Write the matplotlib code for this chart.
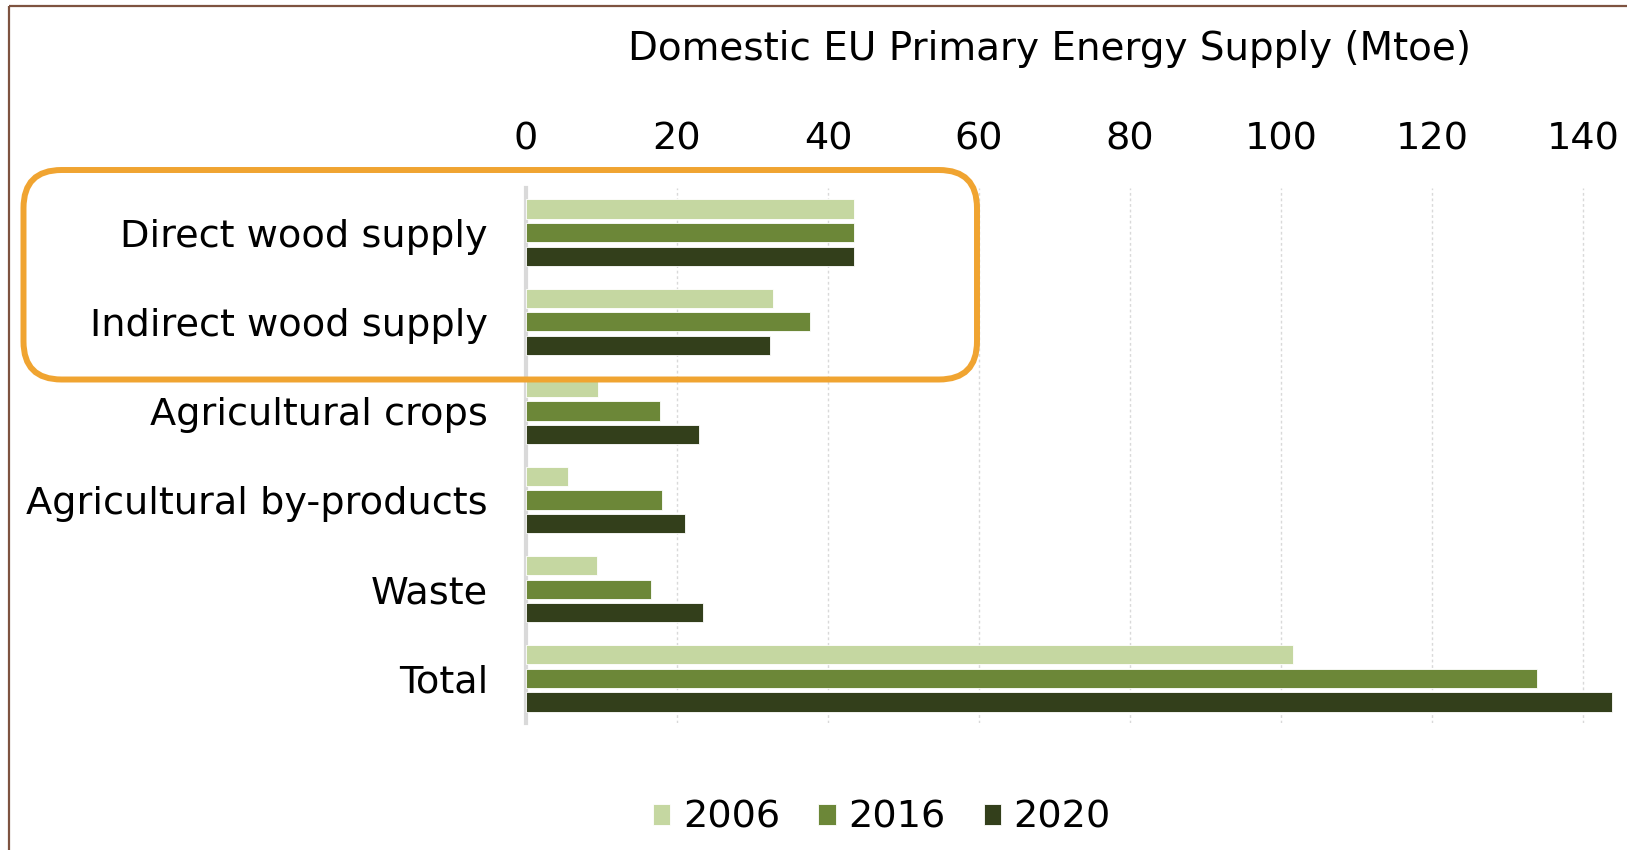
import matplotlib
matplotlib.use("Agg")
import matplotlib.pyplot as plt
import numpy as np
from matplotlib.patches import FancyBboxPatch

categories = ["Direct wood supply", "Indirect wood supply", "Agricultural crops",
              "Agricultural by-products", "Waste", "Total"]
years = ["2006", "2016", "2020"]
v2006 = [43.4, 32.7, 9.6, 5.6, 9.4, 101.5]
v2016 = [43.4, 37.6, 17.7, 18.0, 16.5, 133.9]
v2020 = [43.4, 32.3, 22.9, 21.0, 23.5, 143.8]
xticks = [0, 20, 40, 60, 80, 100, 120, 140]
title = "Domestic EU Primary Energy Supply (Mtoe)"

colors = ["#C5D7A1", "#6C8738", "#333F1B"]

W, H = 1627, 850
fig = plt.figure(figsize=(W / 100, H / 100), dpi=100)
fig.patch.set_facecolor("white")

left_px, right_px, top_px, bot_px = 526, 1621, 188, 723
ax = fig.add_axes([left_px / W, 1 - bot_px / H, (right_px - left_px) / W, (bot_px - top_px) / H])

FS = 27.5
y = np.arange(len(categories))
step = 0.265
bh = 0.215
for i, (vals, c, lab) in enumerate(zip([v2006, v2016, v2020], colors, years)):
    ax.barh(y + (i - 1) * step, vals, height=bh, color=c, edgecolor="white",
            linewidth=0.6, label=lab, zorder=3)

ax.set_xlim(0, 145)
ax.set_ylim(len(categories) - 0.5, -0.5)
ax.xaxis.tick_top()
ax.set_xticks(xticks)
ax.set_xticklabels([str(t) for t in xticks], fontsize=FS)
ax.set_yticks(y)
ax.set_yticklabels(categories, fontsize=FS)
ax.tick_params(axis="both", length=0, colors="black")
ax.tick_params(axis="x", pad=22)
ax.tick_params(axis="y", pad=27.4)
for s in ["top", "right", "bottom"]:
    ax.spines[s].set_visible(False)
ax.spines["left"].set_color("#D9D9D9")
ax.spines["left"].set_linewidth(3)
ax.grid(axis="x", color="#D9D9D9", linestyle=(0, (2, 2)), linewidth=1, zorder=0)
ax.set_axisbelow(True)

fig.text(1050 / W, 1 - 49 / H, title, fontsize=28, ha="center", va="center")

handles, labels = ax.get_legend_handles_labels()
leg = fig.legend(handles, labels, loc="center", bbox_to_anchor=(882 / W, 1 - 818 / H),
                 ncol=3, frameon=False, fontsize=FS, handlelength=0.45, handleheight=0.45,
                 handletextpad=0.33, columnspacing=1.0, borderpad=0, borderaxespad=0)

# overlay for frame and highlight box
ov = fig.add_axes([0, 0, 1, 1], zorder=10)
ov.set_xlim(0, W)
ov.set_ylim(H, 0)
ov.axis("off")
ov.patch.set_alpha(0)
ov.plot([9, 9], [5.7, H], color="#7E5340", lw=1.6, solid_capstyle="butt")
ov.plot([9, W], [5.7, 5.7], color="#7E5340", lw=1.6, solid_capstyle="butt")
box = FancyBboxPatch((23.5, 170), 977 - 23.5, 379.5 - 170,
                     boxstyle="round,pad=0,rounding_size=38",
                     facecolor="none", edgecolor="#F0A431", linewidth=4.3)
ov.add_patch(box)

fig.savefig("out.png", dpi=100, facecolor="white")
